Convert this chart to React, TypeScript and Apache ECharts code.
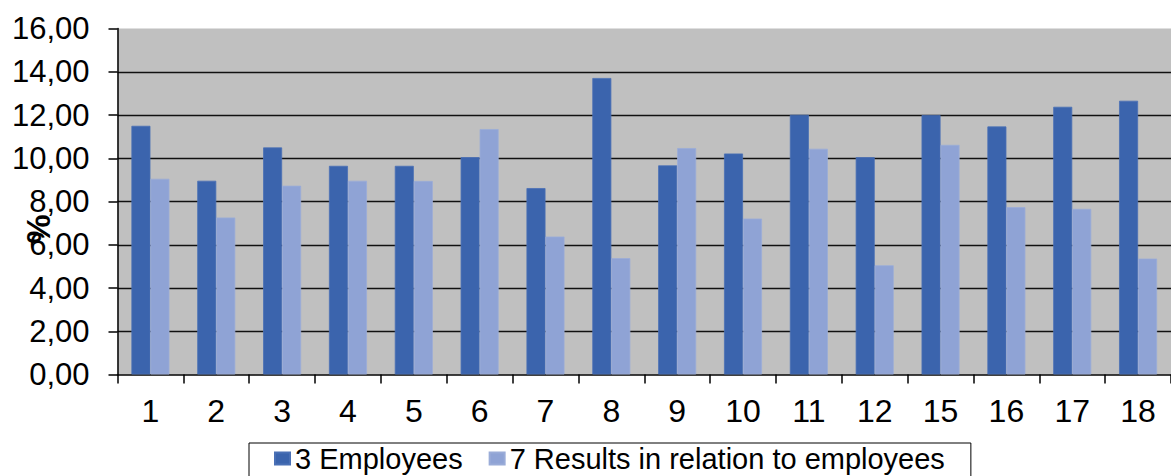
import React, { useEffect, useRef } from "react";
import * as echarts from "echarts";

const categories = ["1", "2", "3", "4", "5", "6", "7", "8", "9", "10", "11", "12", "15", "16", "17", "18"];
const employees = [11.5, 8.96, 10.5, 9.65, 9.65, 10.05, 8.62, 13.71, 9.67, 10.22, 12.01, 10.05, 12.0, 11.47, 12.38, 12.66];
const resultsEmployees = [9.05, 7.26, 8.73, 8.96, 8.95, 11.35, 6.38, 5.38, 10.47, 7.21, 10.44, 5.05, 10.62, 7.74, 7.66, 5.36];
const seriesNames = ["3 Employees", "7 Results in relation to employees"];
const yTicks = { min: 0, max: 16, interval: 2 };

const FONT = "'Liberation Sans', Arial, sans-serif";

export default function App() {
  const ref = useRef<HTMLDivElement>(null);
  useEffect(() => {
    if (!ref.current) return;
    const chart = echarts.init(ref.current, null, { renderer: "svg" });
    chart.setOption({
      animation: false,
      backgroundColor: "#ffffff",
      grid: {
        left: 117.5,
        top: 28.5,
        right: -9.5,
        bottom: 101.5,
        show: true,
        backgroundColor: "#C0C0C0",
        borderWidth: 0,
      },
      legend: {
        left: 249,
        top: 443,
        padding: [1, 26, 12, 25],
        itemGap: 26,
        itemWidth: 15,
        itemHeight: 12,
        icon: "rect",
        borderColor: "#000",
        borderWidth: 1,
        textStyle: { fontSize: 29, color: "#000", fontFamily: FONT },
        data: seriesNames,
      },
      graphic: [
        {
          type: "text",
          x: 38,
          y: 229,
          rotation: Math.PI / 2,
          style: {
            text: "%",
            fontSize: 33,
            fontWeight: "bold",
            fontFamily: FONT,
            fill: "#000",
            align: "center",
            verticalAlign: "middle",
          },
          z: 100,
        },
      ],
      xAxis: {
        type: "category",
        data: categories,
        axisLine: { show: true, lineStyle: { color: "#000", width: 1.5 } },
        axisTick: { show: true, alignWithLabel: false, interval: 0, length: 9, lineStyle: { color: "#000", width: 1.5 } },
        axisLabel: { interval: 0, margin: 20, fontSize: 32, color: "#000", fontFamily: FONT },
        splitLine: { show: false },
      },
      yAxis: {
        type: "value",
        min: yTicks.min,
        max: yTicks.max,
        interval: yTicks.interval,
        axisLine: { show: true, lineStyle: { color: "#000", width: 1.5 } },
        axisTick: { show: true, length: 9, lineStyle: { color: "#000", width: 1.5 } },
        axisLabel: {
          margin: 28,
          fontSize: 31,
          color: "#000",
          fontFamily: FONT,
          formatter: (v: number) => v.toFixed(2).replace(".", ","),
        },
        splitLine: { show: true, showMaxLine: false, showMinLine: false, lineStyle: { color: "#111", width: 1.3 } },
      },
      series: [
        {
          name: seriesNames[0],
          type: "bar",
          data: employees,
          barWidth: 19,
          barGap: "0%",
          itemStyle: { color: "#3B64AD", borderColor: "#4A70B5", borderWidth: 0.8 },
        },
        {
          name: seriesNames[1],
          type: "bar",
          data: resultsEmployees,
          barWidth: 19,
          barGap: "0%",
          itemStyle: { color: "#8FA3D5", borderColor: "#9AACD8", borderWidth: 0.8 },
        },
      ],
    });
    return () => chart.dispose();
  }, []);
  return (
    <div
      ref={ref}
      style={{ position: "absolute", left: 0, top: 0, width: 1171, height: 476, overflow: "hidden" }}
    />
  );
}
